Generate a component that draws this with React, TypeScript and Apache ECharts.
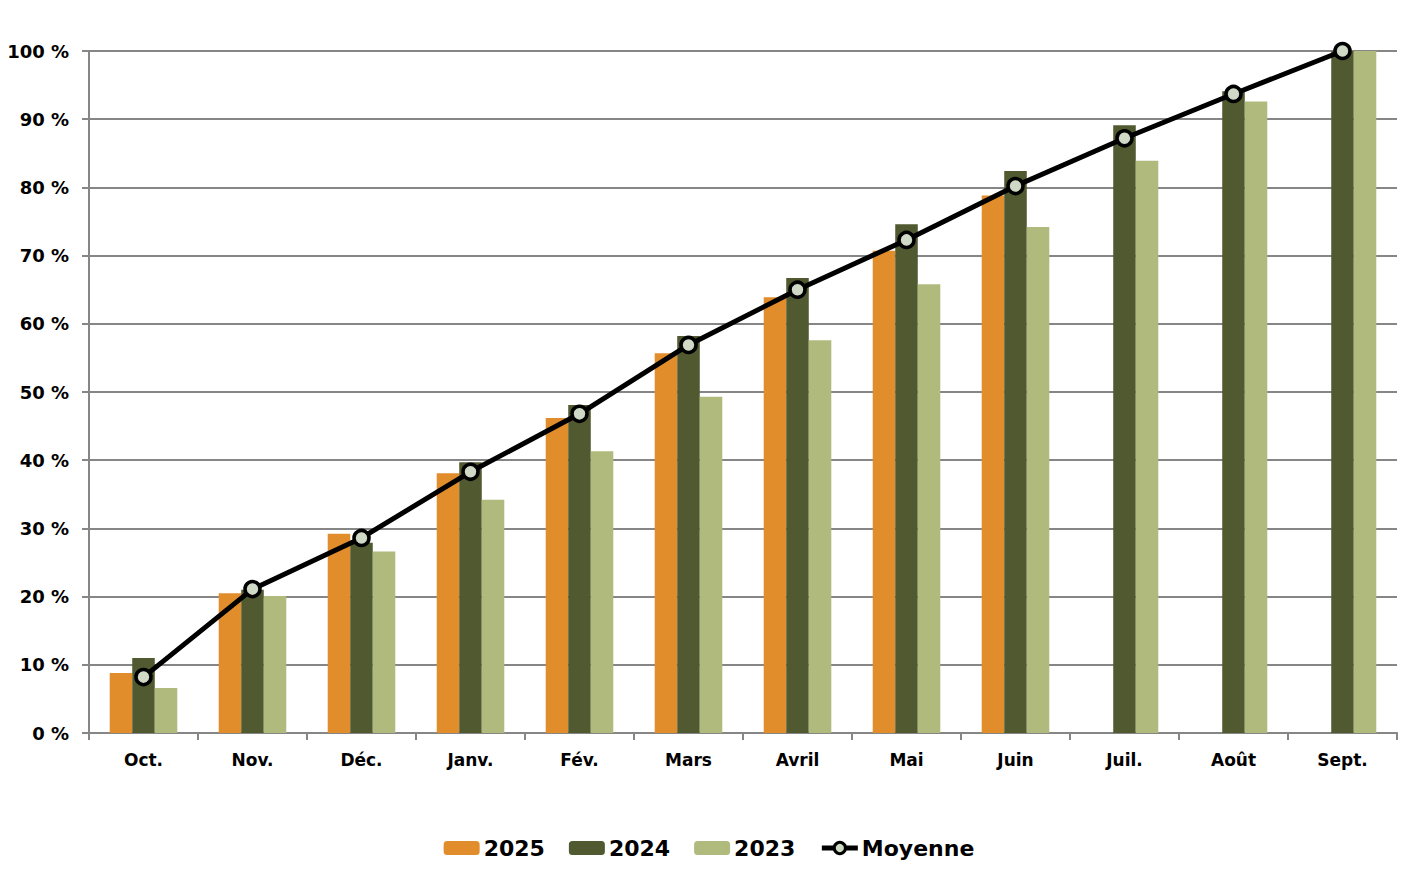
import React, { useEffect, useRef } from "react";
import * as echarts from "echarts";

const categories = ["Oct.", "Nov.", "Déc.", "Janv.", "Fév.", "Mars", "Avril", "Mai", "Juin", "Juil.", "Août", "Sept."];
const values2025 = [8.8, 20.5, 29.2, 38.1, 46.2, 55.7, 63.9, 70.7, 78.8, null, null, null];
const values2024 = [11.0, 21.0, 27.9, 39.7, 48.1, 58.2, 66.7, 74.6, 82.4, 89.1, 94.1, 100];
const values2023 = [6.6, 20.1, 26.6, 34.2, 41.3, 49.3, 57.6, 65.8, 74.2, 83.9, 92.6, 100];
const valuesMoyenne = [8.2, 21.1, 28.6, 38.3, 46.8, 56.9, 65.0, 72.3, 80.2, 87.2, 93.7, 100];

const FONT = "'DejaVu Sans', sans-serif";

export default function App() {
  const ref = useRef<HTMLDivElement>(null);
  useEffect(() => {
    document.body.style.margin = "0";
    const chart = echarts.init(ref.current!, null, { renderer: "svg" });
    const barBase = { type: "bar", barGap: "0%", barCategoryGap: "38%" };
    chart.setOption({
      animation: false,
      backgroundColor: "#ffffff",
      grid: { left: 89, right: 21, top: 51, bottom: 149 },
      legend: {
        bottom: 18,
        left: "center",
        itemWidth: 36,
        itemHeight: 14,
        itemGap: 24,
        textStyle: { fontFamily: FONT, fontWeight: "bold", fontSize: 22, color: "#000", padding: [0, 0, 0, -1] },
        data: [
          { name: "2025" },
          { name: "2024" },
          { name: "2023" },
          { name: "Moyenne", lineStyle: { width: 5, color: "#000" }, itemStyle: { borderWidth: 3 } },
        ],
      },
      xAxis: {
        type: "category",
        data: categories,
        axisLine: { lineStyle: { color: "#868686", width: 2 } },
        axisTick: { show: true, length: 7, alignWithLabel: false, lineStyle: { color: "#868686", width: 2 } },
        axisLabel: { margin: 18, fontFamily: FONT, fontWeight: "bold", fontSize: 17, color: "#000" },
      },
      yAxis: {
        type: "value",
        min: 0,
        max: 100,
        interval: 10,
        axisLine: { show: true, lineStyle: { color: "#868686", width: 2 } },
        axisTick: { show: true, length: 7, lineStyle: { color: "#868686", width: 2 } },
        splitLine: { lineStyle: { color: "#868686", width: 2 } },
        axisLabel: {
          margin: 20,
          formatter: (v: number) => v + " %",
          fontFamily: FONT,
          fontWeight: "bold",
          fontSize: 18,
          color: "#000",
        },
      },
      series: [
        { ...barBase, name: "2025", data: values2025, itemStyle: { color: "#E28D2C" } },
        { ...barBase, name: "2024", data: values2024, itemStyle: { color: "#505930" } },
        { ...barBase, name: "2023", data: values2023, itemStyle: { color: "#B0BA7C" } },
        {
          type: "line",
          name: "Moyenne",
          data: valuesMoyenne,
          symbol: "circle",
          symbolSize: 15,
          lineStyle: { color: "#000", width: 5 },
          itemStyle: { color: "#D0D9C6", borderColor: "#000", borderWidth: 3.5 },
          z: 5,
        },
      ],
    });
    return () => chart.dispose();
  }, []);
  return <div ref={ref} style={{ width: 1418, height: 882 }} />;
}
